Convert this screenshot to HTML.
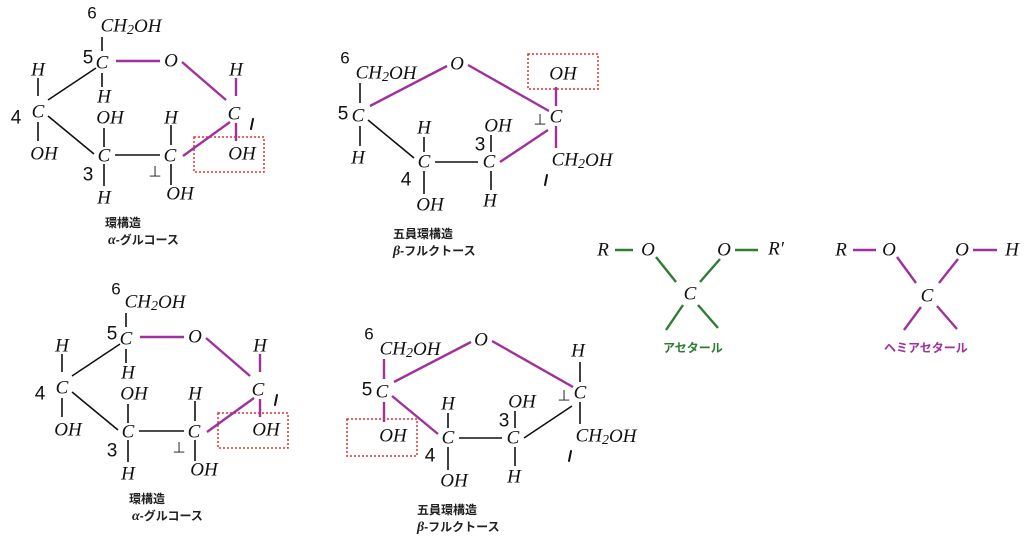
<!DOCTYPE html>
<html><head><meta charset="utf-8">
<style>
html,body{margin:0;padding:0;background:#fff;}
svg{display:block;}
.a{font-family:"Liberation Serif",serif;font-style:italic;font-size:19px;fill:#111;text-anchor:middle;dominant-baseline:central;}
.n{font-family:"Liberation Sans",sans-serif;font-size:19px;fill:#111;text-anchor:middle;dominant-baseline:central;}
.j{font-family:"Liberation Sans","Noto Sans CJK JP",sans-serif;font-size:12px;font-weight:bold;fill:#222;}
.k{stroke:#111;stroke-width:1.6;fill:none;}
.one{stroke:#111;stroke-width:2;fill:none;stroke-linecap:round;}
.p{stroke:#a0319a;stroke-width:2.4;fill:none;}
.g{stroke:#2e7d32;stroke-width:2.4;fill:none;}
.box{stroke:#e53030;stroke-width:1.5;stroke-dasharray:2 2;fill:none;}
</style></head><body>
<svg width="1024" height="542" viewBox="0 0 1024 542" xmlns="http://www.w3.org/2000/svg">
<defs>
<g id="glu">
  <text class="n" x="92" y="13" style="font-size:17px">6</text>
  <text class="a" x="131" y="26">CH<tspan dy="4" style="font-size:14px">2</tspan><tspan dy="-4">OH</tspan></text>
  <line class="k" x1="102" y1="37" x2="102" y2="51"/>
  <text class="n" x="88" y="58">5</text>
  <text class="a" x="102" y="63">C</text>
  <line class="k" x1="102" y1="73" x2="102" y2="87"/>
  <text class="a" x="104" y="97">H</text>
  <line class="p" x1="116" y1="61" x2="160" y2="61"/>
  <text class="a" x="171" y="61">O</text>
  <line class="p" x1="182" y1="62" x2="226" y2="100"/>
  <text class="a" x="236" y="70">H</text>
  <line class="p" x1="236" y1="78" x2="236" y2="96"/>
  <text class="a" x="234" y="114">C</text>
  <line class="one" x1="253" y1="119" x2="251" y2="129"/>
  <line class="p" x1="236" y1="123" x2="236" y2="141"/>
  <text class="a" x="242" y="154">OH</text>
  <rect class="box" x="194" y="137" width="70" height="35"/>
  <line class="p" x1="183" y1="156" x2="230" y2="122"/>
  <text class="a" x="171" y="118">H</text>
  <line class="k" x1="171" y1="125" x2="171" y2="145"/>
  <text class="a" x="170" y="156">C</text>
  <text class="n" x="155" y="172" style="font-size:15px">⊥</text>
  <line class="k" x1="171" y1="164" x2="171" y2="185"/>
  <text class="a" x="180" y="194">OH</text>
  <line class="k" x1="115" y1="155" x2="160" y2="155"/>
  <text class="a" x="104" y="156">C</text>
  <text class="a" x="110" y="118">OH</text>
  <line class="k" x1="104" y1="128" x2="104" y2="147"/>
  <line class="k" x1="104" y1="164" x2="104" y2="186"/>
  <text class="a" x="104" y="198">H</text>
  <text class="n" x="88" y="175">3</text>
  <text class="a" x="38" y="112">C</text>
  <text class="n" x="16" y="118">4</text>
  <text class="a" x="38" y="70">H</text>
  <line class="k" x1="38" y1="78" x2="38" y2="96"/>
  <line class="k" x1="38" y1="122" x2="38" y2="141"/>
  <text class="a" x="44" y="154">OH</text>
  <line class="k" x1="48" y1="100" x2="96" y2="68"/>
  <line class="k" x1="48" y1="116" x2="94" y2="154"/>
  <text class="j" x="105" y="227">環構造</text>
  <text class="j" x="108" y="244"><tspan style="font-family:'Liberation Serif',serif;font-style:italic;font-size:14px">α</tspan>-グルコース</text>
</g>
</defs>
<use href="#glu"/>
<use href="#glu" transform="translate(24,276)"/>

<!-- top fructose -->
<g>
  <text class="n" x="345" y="58" style="font-size:17px">6</text>
  <text class="a" x="386" y="73">CH<tspan dy="4" style="font-size:14px">2</tspan><tspan dy="-4">OH</tspan></text>
  <line class="k" x1="360" y1="83" x2="360" y2="103"/>
  <text class="n" x="343" y="114">5</text>
  <text class="a" x="358" y="116">C</text>
  <line class="k" x1="360" y1="126" x2="360" y2="146"/>
  <text class="a" x="358" y="158">H</text>
  <line class="p" x1="370" y1="106" x2="447" y2="66"/>
  <text class="a" x="457" y="64">O</text>
  <line class="p" x1="468" y1="65" x2="549" y2="111"/>
  <text class="a" x="556" y="117">C</text>
  <text class="n" x="540" y="120" style="font-size:15px">⊥</text>
  <text class="a" x="563" y="74">OH</text>
  <rect class="box" x="528" y="54" width="70" height="35"/>
  <line class="p" x1="556" y1="87" x2="556" y2="106"/>
  <line class="p" x1="556" y1="126" x2="556" y2="148"/>
  <text class="a" x="582" y="160">CH<tspan dy="4" style="font-size:14px">2</tspan><tspan dy="-4">OH</tspan></text>
  <line class="one" x1="547" y1="175" x2="545" y2="185"/>
  <line class="p" x1="500" y1="162" x2="548" y2="130"/>
  <text class="a" x="489" y="162">C</text>
  <text class="n" x="480" y="145">3</text>
  <text class="a" x="498" y="126">OH</text>
  <line class="k" x1="491" y1="135" x2="491" y2="152"/>
  <line class="k" x1="491" y1="171" x2="491" y2="190"/>
  <text class="a" x="490" y="201">H</text>
  <line class="k" x1="435" y1="162" x2="478" y2="162"/>
  <text class="a" x="424" y="162">C</text>
  <text class="a" x="424" y="128">H</text>
  <line class="k" x1="424" y1="137" x2="424" y2="152"/>
  <line class="k" x1="424" y1="171" x2="424" y2="194"/>
  <text class="a" x="430" y="205">OH</text>
  <text class="n" x="406" y="180">4</text>
  <line class="k" x1="368" y1="120" x2="414" y2="158"/>
  <text class="j" x="393" y="238">五員環構造</text>
  <text class="j" x="393" y="255"><tspan style="font-family:'Liberation Serif',serif;font-style:italic;font-size:14px">β</tspan>-フルクトース</text>
</g>

<!-- bottom fructose -->
<g transform="translate(24,276)">
  <text class="n" x="345" y="58" style="font-size:17px">6</text>
  <text class="a" x="386" y="73">CH<tspan dy="4" style="font-size:14px">2</tspan><tspan dy="-4">OH</tspan></text>
  <line class="p" x1="360" y1="83" x2="360" y2="103"/>
  <text class="n" x="343" y="114">5</text>
  <text class="a" x="358" y="116">C</text>
  <line class="p" x1="360" y1="126" x2="360" y2="146"/>
  <text class="a" x="369" y="160">OH</text>
  <rect class="box" x="323" y="143" width="70" height="37"/>
  <line class="p" x1="370" y1="106" x2="447" y2="66"/>
  <text class="a" x="457" y="64">O</text>
  <line class="p" x1="468" y1="65" x2="549" y2="111"/>
  <text class="a" x="556" y="117">C</text>
  <text class="n" x="540" y="120" style="font-size:15px">⊥</text>
  <text class="a" x="554" y="75">H</text>
  <line class="k" x1="556" y1="86" x2="556" y2="106"/>
  <line class="k" x1="556" y1="126" x2="556" y2="148"/>
  <text class="a" x="582" y="160">CH<tspan dy="4" style="font-size:14px">2</tspan><tspan dy="-4">OH</tspan></text>
  <line class="one" x1="547" y1="175" x2="545" y2="185"/>
  <line class="k" x1="500" y1="162" x2="548" y2="130"/>
  <text class="a" x="489" y="162">C</text>
  <text class="n" x="480" y="145">3</text>
  <text class="a" x="498" y="126">OH</text>
  <line class="k" x1="491" y1="135" x2="491" y2="152"/>
  <line class="k" x1="491" y1="171" x2="491" y2="190"/>
  <text class="a" x="490" y="201">H</text>
  <line class="k" x1="435" y1="162" x2="478" y2="162"/>
  <text class="a" x="424" y="162">C</text>
  <text class="a" x="424" y="128">H</text>
  <line class="k" x1="424" y1="137" x2="424" y2="152"/>
  <line class="k" x1="424" y1="171" x2="424" y2="194"/>
  <text class="a" x="430" y="205">OH</text>
  <text class="n" x="406" y="180">4</text>
  <line class="p" x1="368" y1="120" x2="414" y2="158"/>
  <text class="j" x="393" y="238">五員環構造</text>
  <text class="j" x="393" y="255"><tspan style="font-family:'Liberation Serif',serif;font-style:italic;font-size:14px">β</tspan>-フルクトース</text>
</g>

<!-- acetal -->
<g>
  <text class="a" x="603" y="250">R</text>
  <line class="g" x1="615" y1="250" x2="633" y2="250"/>
  <text class="a" x="648" y="250">O</text>
  <text class="a" x="724" y="250">O</text>
  <line class="g" x1="735" y1="250" x2="758" y2="250"/>
  <text class="a" x="776" y="249">R′</text>
  <text class="a" x="690" y="294">C</text>
  <line class="g" x1="656" y1="257" x2="676" y2="282"/>
  <line class="g" x1="700" y1="282" x2="720" y2="259"/>
  <line class="g" x1="683" y1="305" x2="666" y2="330"/>
  <line class="g" x1="698" y1="305" x2="718" y2="328"/>
  <text class="j" x="663" y="352" style="fill:#2e7d32">アセタール</text>
</g>
<!-- hemiacetal -->
<g>
  <text class="a" x="841" y="250">R</text>
  <line class="p" x1="853" y1="250" x2="876" y2="250"/>
  <text class="a" x="889" y="250">O</text>
  <text class="a" x="962" y="250">O</text>
  <line class="p" x1="973" y1="250" x2="997" y2="250"/>
  <text class="a" x="1012" y="250">H</text>
  <text class="a" x="927" y="296">C</text>
  <line class="p" x1="897" y1="257" x2="916" y2="283"/>
  <line class="p" x1="939" y1="283" x2="958" y2="259"/>
  <line class="p" x1="921" y1="307" x2="904" y2="330"/>
  <line class="p" x1="937" y1="306" x2="957" y2="329"/>
  <text class="j" x="884" y="352" style="fill:#a0319a">ヘミアセタール</text>
</g>
</svg>
</body></html>
